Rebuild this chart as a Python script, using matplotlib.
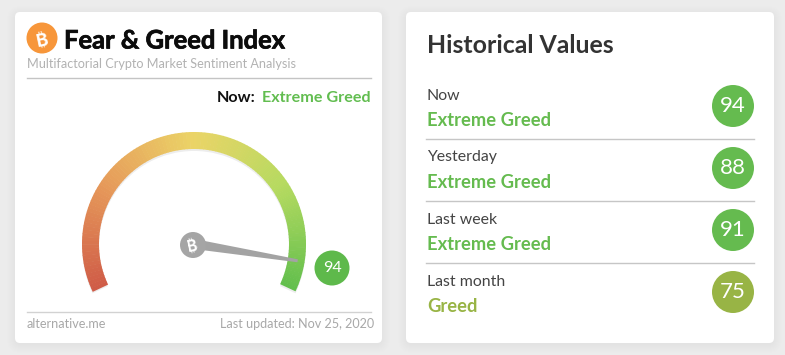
import numpy as np
import matplotlib
matplotlib.use("Agg")
import matplotlib.pyplot as plt
import matplotlib.patheffects as pe
from matplotlib.patches import FancyBboxPatch, Wedge, Circle, Polygon
from matplotlib.colors import LinearSegmentedColormap

# data
gauge_value = 94
gauge_min = 0
gauge_max = 100
title = "Fear & Greed Index"
subtitle = "Multifactorial Crypto Market Sentiment Analysis"
now_label = "Extreme Greed"
source = "alternative.me"
updated = "Last updated: Nov 25, 2020"
hist_periods = ["Now", "Yesterday", "Last week", "Last month"]
hist_labels = ["Extreme Greed", "Extreme Greed", "Extreme Greed", "Greed"]
hist_values = [94, 88, 91, 75]
hist_colors = ["#65bb4f", "#65bb4f", "#65bb4f", "#98b445"]

GREEN = "#62bd50"
fonts = ["Lato", "DejaVu Sans"]
coin_fonts = ["Inter", "Roboto", "Noto Sans", "Open Sans", "Lato", "Liberation Sans", "DejaVu Sans"]

fig = plt.figure(figsize=(7.85, 3.55), dpi=100, facecolor="#ececec")
ax = fig.add_axes([0, 0, 1, 1])
ax.set_xlim(0, 785)
ax.set_ylim(355, 0)
ax.axis("off")


def card(x0, y0, x1, y1):
    # soft shadow made of stacked translucent boxes
    for grow in range(9, 0, -1):
        ax.add_patch(FancyBboxPatch((x0 - grow + 1, y0 - grow + 3), x1 - x0 + 2 * grow - 2, y1 - y0 + 2 * grow - 2,
                                    boxstyle="round,pad=0,rounding_size=%d" % (5 + grow),
                                    fc="black", ec="none", alpha=0.004, zorder=1))
    ax.add_patch(FancyBboxPatch((x0, y0), x1 - x0, y1 - y0, boxstyle="round,pad=0,rounding_size=5",
                                fc="white", ec="none", zorder=2))


def coin(x, y, r, color, size):
    ax.add_patch(Circle((x, y), r, fc=color, ec="none", zorder=6))
    ax.text(x, y, "\u20bf", color="white", fontsize=size, fontweight="bold", ha="center", va="center_baseline",
            rotation=12, family=coin_fonts, zorder=7)


card(15, 12, 382, 343)
card(406, 12, 774, 343)

# left card header
coin(42, 38, 15.5, "#f7963a", 13)
ax.text(64, 40.5, title, fontsize=18.4, fontweight="bold", family=fonts, color="#0c0c0c", va="center", zorder=5,
        path_effects=[pe.withStroke(linewidth=0.5, foreground="#0c0c0c")])
ax.text(27, 64.5, subtitle, fontsize=9.1, family=fonts, color="#b2b2b2", va="center", zorder=5)
ax.plot([27, 371], [78, 78], color="#c4c4c4", lw=1, zorder=5)
ax.text(370.5, 98, now_label, fontsize=11.6, fontweight="bold", family=fonts, color=GREEN, ha="right", va="center", zorder=5)
ax.text(256, 98, "Now:", fontsize=11.6, fontweight="bold", family=fonts, color="#111111", ha="right", va="center", zorder=5)

# gauge
cx, cy = 194, 244
r_out, r_in = 112, 95
start_deg, end_deg = 205, -25
cmap = LinearSegmentedColormap.from_list("fg", ["#cf5b47", "#e6995a", "#ebd467", "#b5da60", "#62bf4d"])
segs = np.linspace(gauge_min, gauge_max, 121)
span = start_deg - end_deg
# faint shadow under the arc
ax.add_patch(Wedge((cx, cy + 2), r_out, -start_deg, -end_deg, width=r_out - r_in, fc="black", ec="none", alpha=0.07, zorder=3))
for a, b in zip(segs[:-1], segs[1:]):
    t1 = start_deg - span * a / gauge_max
    t0 = start_deg - span * b / gauge_max
    ax.add_patch(Wedge((cx, cy), r_out, -t1 - 0.3, -t0, width=r_out - r_in, fc=cmap((a + b) / 2 / gauge_max), ec="none", zorder=4))

ang = np.radians(start_deg - span * gauge_value / gauge_max + 2)
tip = (cx + 105 * np.cos(ang), cy - 105 * np.sin(ang))
nx, ny = np.sin(ang), np.cos(ang)
ax.add_patch(Polygon([(cx + 5 * nx, cy + 5 * ny), (cx - 5 * nx, cy - 5 * ny), (tip[0] - 1.5 * nx, tip[1] - 1.5 * ny), (tip[0] + 1.5 * nx, tip[1] + 1.5 * ny)],
                     fc="#a3a3a3", ec="none", zorder=5))
coin(cx - 1, cy + 1, 13, "#a5a5a5", 11)

ax.add_patch(Circle((332, 268), 17.5, fc="#5eb94b", ec="none", zorder=5))
ax.text(332, 268, str(gauge_value), fontsize=11.5, family=fonts, color="white", ha="center", va="center", zorder=6)

# left footer
ax.plot([27, 371], [311.5, 311.5], color="#d2d2d2", lw=1, zorder=5)
ax.text(27, 324.5, source, fontsize=9.1, family=fonts, color="#a8a8a8", va="center", zorder=5)
ax.text(374, 324.5, updated, fontsize=9.1, family=fonts, color="#a8a8a8", ha="right", va="center", zorder=5)

# right card
ax.text(427, 45.5, "Historical Values", fontsize=17.9, fontweight="bold", family=fonts, color="#333333", va="center", zorder=5)
row_h = 62
for i, (period, label, val, col) in enumerate(zip(hist_periods, hist_labels, hist_values, hist_colors)):
    y = row_h * i
    ax.text(427, 95.5 + y, period, fontsize=11.4, family=fonts, color="#444444", va="center", zorder=5)
    ax.text(427, 120 + y, label, fontsize=13.2, fontweight="bold", family=fonts, color=col, va="center", zorder=5)
    ax.add_patch(Circle((733, 106 + y), 21, fc=col, ec="none", zorder=5))
    ax.text(733, 106 + y, str(val), fontsize=16, family=fonts, color="white", ha="center", va="center", zorder=6)
    if i < len(hist_periods) - 1:
        ax.plot([426, 754], [139 + y, 139 + y], color="#c6c6c6", lw=1, zorder=5)

fig.savefig("out.png", dpi=100, facecolor=fig.get_facecolor())
